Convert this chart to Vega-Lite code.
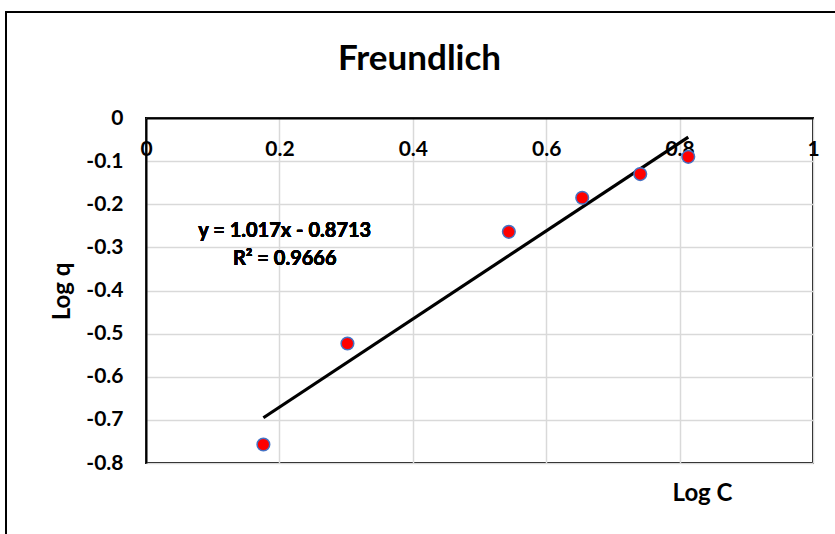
{
  "$schema": "https://vega.github.io/schema/vega-lite/v6.json",
  "width": 667,
  "height": 345,
  "autosize": {"type": "none"},
  "padding": {"left": 146, "top": 118, "right": 22, "bottom": 71},
  "background": "white",
  "title": {
    "text": "Freundlich",
    "font": "Lato",
    "fontSize": 35,
    "fontWeight": "bold",
    "color": "#000000",
    "anchor": "middle",
    "frame": "group",
    "baseline": "alphabetic",
    "dx": -60,
    "offset": 0,
    "dy": 93
  },
  "config": {
    "view": {"stroke": "#000000", "strokeWidth": 2},
    "axis": {
      "labelFont": "Lato",
      "labelFontSize": 21,
      "labelFontWeight": "bold",
      "labelColor": "#000000",
      "titleFont": "Lato",
      "titleFontSize": 24,
      "titleFontWeight": "bold",
      "titleColor": "#000000",
      "gridColor": "#d9d9d9",
      "gridWidth": 1.5,
      "ticks": false,
      "domainColor": "#000000",
      "domainWidth": 2
    }
  },
  "data": {
    "values": [
      {"logC": 0.176, "logq": -0.757},
      {"logC": 0.302, "logq": -0.523},
      {"logC": 0.544, "logq": -0.264},
      {"logC": 0.654, "logq": -0.185},
      {"logC": 0.741, "logq": -0.130},
      {"logC": 0.813, "logq": -0.090}
    ]
  },
  "encoding": {
    "x": {
      "field": "logC",
      "type": "quantitative",
      "scale": {"domain": [0, 1], "nice": false, "zero": false},
      "axis": {
        "orient": "top",
        "values": [0, 0.2, 0.4, 0.6, 0.8, 1],
        "labelExpr": "format(datum.value, '~g')",
        "labelBaseline": "top",
        "labelPadding": -20,
        "labelFlush": false,
        "title": "Log C",
        "titleX": 556,
        "titleY": 375,
        "titleBaseline": "middle",
        "titleAnchor": "middle"
      }
    },
    "y": {
      "field": "logq",
      "type": "quantitative",
      "scale": {"domain": [-0.8, 0], "nice": false, "zero": false},
      "axis": {
        "values": [0, -0.1, -0.2, -0.3, -0.4, -0.5, -0.6, -0.7, -0.8],
        "labelExpr": "replace(format(datum.value, '~g'), '\u2212', '-')",
        "labelPadding": 23,
        "labelFlush": false,
        "title": "Log q",
        "titleX": -84,
        "titleY": 173,
        "titleAngle": -90,
        "titleBaseline": "middle",
        "titleAnchor": "middle"
      }
    }
  },
  "layer": [
    {
      "mark": {"type": "rect", "clip": false, "fill": "transparent", "stroke": "#000000", "strokeWidth": 1.5},
      "encoding": {
        "x": {"datum": -0.21},
        "x2": {"datum": 1.2},
        "y": {"datum": 0.245},
        "y2": {"datum": -1.2}
      }
    },
    {
      "transform": [{"regression": "logq", "on": "logC"}],
      "mark": {"type": "line", "color": "#000000", "strokeWidth": 3.2}
    },
    {
      "mark": {"type": "circle", "size": 160, "opacity": 1, "fill": "#ff0000", "stroke": "#4472c4", "strokeWidth": 1.5}
    },
    {
      "mark": {"type": "text", "font": "Lato", "fontSize": 20, "fontWeight": "bold", "color": "#000000", "align": "center", "baseline": "middle", "lineHeight": 28},
      "encoding": {
        "x": {"datum": 0.208},
        "y": {"datum": -0.262},
        "text": {"value": ["y = 1.017x - 0.8713", "R² = 0.9666"]}
      }
    }
  ]
}
